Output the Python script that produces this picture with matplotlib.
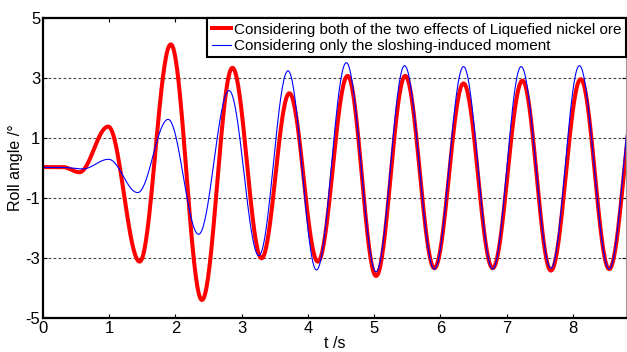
import numpy as np
import matplotlib
matplotlib.use("Agg")
import matplotlib.pyplot as plt

plt.rcParams['font.family'] = ['Liberation Sans', 'DejaVu Sans']
plt.rcParams['axes.unicode_minus'] = False

# extrema of the roll response (time in s, angle in deg)
t_both = [0, 0.30, 0.55, 0.985, 1.46, 1.93, 2.40, 2.86, 3.30, 3.72, 4.15, 4.60, 5.03,
          5.47, 5.91, 6.35, 6.79, 7.24, 7.67, 8.12, 8.55, 8.99]
roll_both = [0.03, 0.03, -0.14, 1.38, -3.12, 4.12, -4.40, 3.34, -3.01, 2.49, -3.12, 3.07,
             -3.60, 3.07, -3.34, 2.82, -3.34, 2.91, -3.42, 2.96, -3.37, 2.90]

t_slosh = [0, 0.30, 0.60, 0.99, 1.43, 1.89, 2.35, 2.81, 3.26, 3.70, 4.13, 4.58, 5.03,
           5.46, 5.91, 6.35, 6.79, 7.22, 7.67, 8.10, 8.55, 8.98]
roll_slosh = [0.02, 0.02, -0.03, 0.29, -0.82, 1.62, -2.21, 2.58, -2.92, 3.24, -3.40, 3.51,
              -3.46, 3.41, -3.37, 3.38, -3.37, 3.38, -3.34, 3.41, -3.37, 3.40]

labels = ['Considering both of the two effects of Liquefied nickel ore',
          'Considering only the sloshing-induced moment']


def smooth(t, v, n=40):
    # half-cosine segments between successive extrema
    tt, vv = [], []
    for i in range(len(t) - 1):
        s = np.linspace(0, 1, n, endpoint=False)
        tt.append(t[i] + (t[i + 1] - t[i]) * s)
        vv.append(v[i] + (v[i + 1] - v[i]) * (1 - np.cos(np.pi * s)) / 2)
    tt.append([t[-1]])
    vv.append([v[-1]])
    return np.concatenate(tt), np.concatenate(vv)


fig = plt.figure(figsize=(6.27, 3.52), dpi=100)
ax = fig.add_axes([0.0686, 0.0966, 0.9294, 0.8523])

x1, y1 = smooth(t_both, roll_both)
x2, y2 = smooth(t_slosh, roll_slosh)
ax.plot(x1, y1, color='#ff0000', lw=2.9, label=labels[0])
ax.plot(x2, y2, color='#0000ff', lw=0.8, label=labels[1])

ax.set_xlim(0, 8.8)
ax.set_ylim(-5, 5)
ax.set_xticks(range(0, 9))
ax.set_yticks([-5, -3, -1, 1, 3, 5])
for yv in [-3, -1, 1, 3]:
    ax.axhline(yv, color='#444444', lw=0.8, ls=(0, (2.5, 2)), zorder=0)

ax.tick_params(direction='in', length=3, width=0.8, top=True, right=True,
               labelsize=12, pad=2)
for side in ['left', 'bottom', 'top']:
    ax.spines[side].set_linewidth(1.6)
ax.spines['right'].set_color('#999999')
ax.spines['right'].set_linewidth(0.8)

ax.set_xlabel('t /s', fontsize=11.5, labelpad=0)
ax.set_ylabel('Roll angle /°', fontsize=11.5, labelpad=2)

leg = ax.legend(loc='upper right', bbox_to_anchor=(1.0, 1.0), borderaxespad=0,
                fontsize=11, handlelength=1.3, handletextpad=0.15, borderpad=0.3,
                labelspacing=0.15, fancybox=False, framealpha=1)
leg.get_frame().set_edgecolor('black')
leg.get_frame().set_linewidth(1.5)

fig.savefig('out.png', dpi=100)
